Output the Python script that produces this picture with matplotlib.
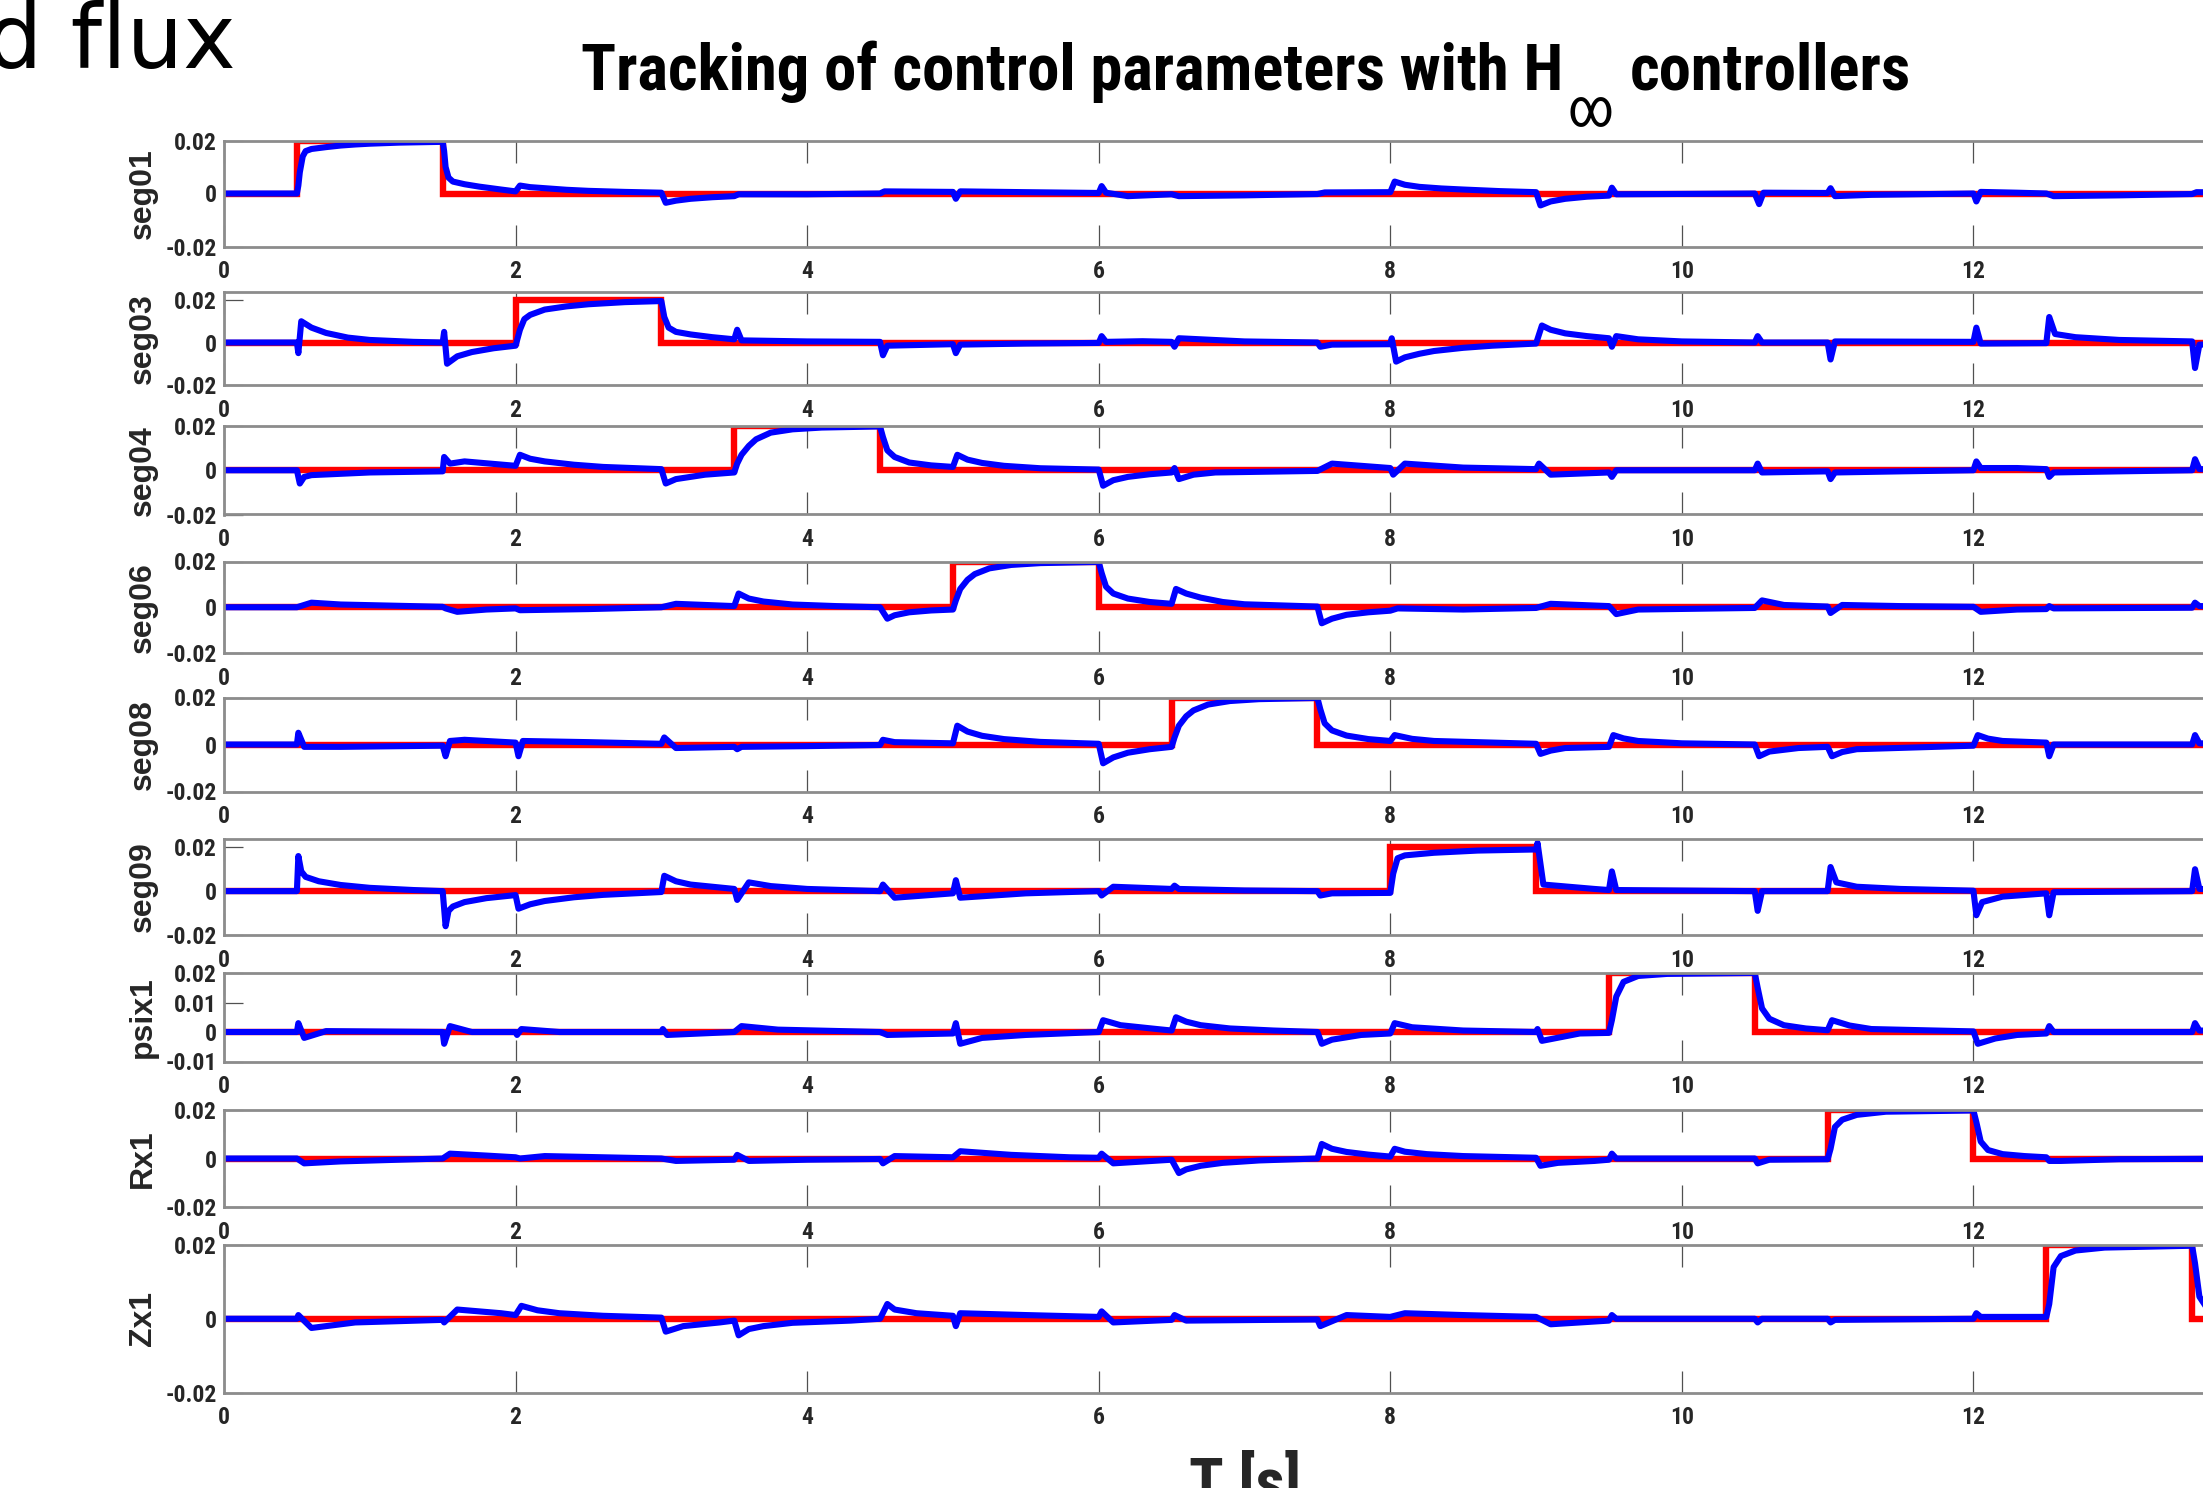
import matplotlib
matplotlib.use('Agg')
import matplotlib.pyplot as plt
import numpy as np

plt.rcParams['font.family'] = ['Roboto Condensed', 'DejaVu Sans']

# step reference (same for every channel, shifted in time)
amp = 0.02
step_on = [0.5, 2.0, 3.5, 5.0, 6.5, 8.0, 9.5, 11.0, 12.5]
step_off = [1.5, 3.0, 4.5, 6.0, 7.5, 9.0, 10.5, 12.0, 13.5]
names = ['seg01', 'seg03', 'seg04', 'seg06', 'seg08', 'seg09', 'psix1', 'Rx1', 'Zx1']

seg01 = [(0, 0), (0.5, 0), (0.51, 3), (0.52, 8), (0.54, 14), (0.56, 16), (0.6, 16.8), (0.7, 17.5),
         (0.8, 18.1), (0.9, 18.5), (1.0, 18.8), (1.2, 19.2), (1.5, 19.5),
         (1.51, 16), (1.52, 10), (1.54, 6), (1.57, 4.5), (1.65, 3.5), (1.75, 2.6), (1.9, 1.5), (2.0, 0.8),
         (2.03, 3), (2.1, 2.4), (2.2, 2), (2.35, 1.4), (2.5, 1), (2.75, 0.6), (3.0, 0.3),
         (3.03, -3.5), (3.1, -2.7), (3.2, -2), (3.35, -1.4), (3.5, -1),
         (3.53, -0.3), (4.0, -0.3), (4.5, 0), (4.53, 0.8), (5.0, 0.6),
         (5.02, -2), (5.05, 0.8), (5.5, 0.5), (6.0, 0.2), (6.02, 2.8), (6.05, 0.3), (6.2, -1), (6.5, -0.3),
         (6.55, -1), (7.0, -0.7), (7.5, -0.2), (7.55, 0.4), (8.0, 0.5),
         (8.03, 4.5), (8.1, 3.3), (8.2, 2.5), (8.35, 1.9), (8.5, 1.5), (8.75, 0.9), (9.0, 0.5),
         (9.03, -4.5), (9.1, -3), (9.2, -2), (9.35, -1.2), (9.5, -0.8),
         (9.52, 2.2), (9.55, -0.3), (10.5, 0), (10.53, -4), (10.56, 0.3), (11.0, 0.2),
         (11.02, 2), (11.05, -1), (11.3, -0.5), (12.0, 0),
         (12.02, -3), (12.05, 0.6), (12.3, 0.3), (12.5, 0), (12.55, -1), (13.0, -0.7), (13.5, -0.2),
         (13.53, 0.5), (14.0, 0.2)]
seg03 = [(0, 0), (0.5, 0), (0.51, -5), (0.53, 10), (0.6, 7), (0.7, 4.5), (0.85, 2.3), (1.0, 1.2),
         (1.3, 0.3), (1.5, 0),
         (1.51, 5), (1.53, -10), (1.6, -6.5), (1.7, -4.5), (1.85, -2.7), (2.0, -1.5),
         (2.03, 6), (2.06, 11), (2.1, 13), (2.2, 15.5), (2.35, 17), (2.5, 18), (2.75, 19), (3.0, 19.5),
         (3.02, 12), (3.05, 7), (3.1, 5), (3.2, 3.8), (3.35, 2.5), (3.5, 1.5),
         (3.52, 6), (3.55, 1), (4.0, 0.5), (4.5, 0.3),
         (4.52, -6), (4.55, -1.5), (5.0, -0.8), (5.02, -5), (5.05, -1), (5.5, -0.5), (6.0, -0.2),
         (6.02, 3), (6.05, 0.3), (6.3, 0.6), (6.5, 0.3), (6.52, -2), (6.55, 2), (7.0, 0.5), (7.5, 0),
         (7.52, -2), (7.6, -1), (8.0, -0.8),
         (8.01, 2), (8.04, -9), (8.1, -7), (8.2, -5.3), (8.3, -4), (8.5, -2.5), (8.7, -1.5), (9.0, -0.5),
         (9.04, 8), (9.1, 6), (9.2, 4.3), (9.35, 3), (9.5, 2),
         (9.52, -2), (9.55, 3), (9.7, 1.5), (10.0, 0.5), (10.5, 0),
         (10.52, 3), (10.55, 0), (11.0, 0), (11.02, -8), (11.05, 0.5), (12.0, 0.3),
         (12.02, 7), (12.05, -0.5), (12.5, -0.3),
         (12.52, 12), (12.56, 4), (12.7, 2.5), (13.0, 1.2), (13.5, 0.5),
         (13.52, -12), (13.55, -1), (14.0, -0.5)]
seg04 = [(0, 0), (0.5, 0), (0.52, -6), (0.55, -3), (0.6, -2.2), (1.0, -1), (1.5, -0.5),
         (1.51, 6), (1.55, 3), (1.65, 4), (2.0, 2),
         (2.03, 7), (2.1, 5.2), (2.2, 4), (2.4, 2.5), (2.6, 1.5), (3.0, 0.5),
         (3.03, -6), (3.1, -4), (3.3, -2), (3.5, -1),
         (3.52, 3), (3.55, 7), (3.6, 11), (3.65, 14), (3.75, 17), (3.9, 18.5), (4.1, 19.3), (4.5, 19.8),
         (4.52, 15), (4.55, 9), (4.6, 6), (4.7, 3.5), (4.85, 2.2), (5.0, 1.5),
         (5.03, 7), (5.1, 4.8), (5.2, 3.3), (5.35, 2), (5.6, 0.9), (6.0, 0.3),
         (6.03, -7), (6.1, -4.5), (6.2, -3), (6.35, -1.8), (6.5, -1),
         (6.52, 1), (6.55, -4), (6.65, -2), (6.8, -1), (7.5, -0.3),
         (7.6, 3), (7.8, 2), (8.0, 1), (8.02, -2), (8.1, 3), (8.5, 1.2), (9.0, 0.5),
         (9.02, 3), (9.1, -2), (9.5, -1), (9.52, -3), (9.55, 0), (10.5, 0),
         (10.52, 3), (10.55, -1), (11.0, -0.5), (11.02, -4), (11.05, -1), (11.5, -0.5), (12.0, 0),
         (12.02, 4), (12.05, 1), (12.3, 1), (12.5, 0.5), (12.52, -3), (12.55, -1), (13.0, -0.5), (13.5, 0),
         (13.52, 5), (13.55, 0.5), (14.0, 0.2)]
seg06 = [(0, 0), (0.5, 0), (0.6, 2), (0.8, 1.2), (1.5, 0.2), (1.52, -0.5), (1.6, -2), (1.8, -1), (2.0, -0.5),
         (2.03, -1.3), (2.5, -0.8), (3.0, 0), (3.1, 1.5), (3.5, 0.5),
         (3.53, 6), (3.6, 3.8), (3.7, 2.5), (3.9, 1.2), (4.2, 0.5), (4.5, 0),
         (4.55, -5), (4.6, -3.5), (4.7, -2.2), (4.85, -1.4), (5.0, -1),
         (5.02, 3), (5.05, 8), (5.1, 12), (5.15, 14.5), (5.25, 17), (5.4, 18.5), (5.6, 19.3), (6.0, 19.8),
         (6.02, 15), (6.05, 9), (6.1, 6), (6.2, 3.8), (6.35, 2.3), (6.5, 1.5),
         (6.53, 8), (6.6, 6), (6.7, 4.2), (6.85, 2.3), (7.0, 1.3), (7.5, 0.3),
         (7.53, -7), (7.6, -5), (7.7, -3.3), (7.85, -2.2), (8.0, -1.5),
         (8.05, -0.5), (8.5, -1), (9.0, -0.3), (9.1, 1.5), (9.5, 0.5),
         (9.55, -3), (9.7, -1), (10.5, -0.3), (10.55, 3), (10.7, 1), (11.0, 0.3),
         (11.02, -2.5), (11.1, 1), (11.5, 0.5), (12.0, 0.2), (12.05, -2), (12.3, -1), (12.5, -0.8),
         (12.52, 0.5), (12.55, -0.5), (13.5, -0.2), (13.52, 2), (13.55, 0.5), (14.0, 0.3)]
seg08 = [(0, 0), (0.5, 0), (0.51, 5), (0.55, -1), (0.8, -1), (1.5, -0.5),
         (1.52, -5), (1.55, 1.5), (1.65, 2), (2.0, 0.8), (2.02, -5), (2.05, 1.5), (2.5, 1), (3.0, 0.3),
         (3.02, 3), (3.1, -1.5), (3.5, -1), (3.52, -2), (3.55, -1), (4.0, -0.7), (4.5, -0.2),
         (4.52, 2), (4.6, 1), (5.0, 0.5),
         (5.03, 8), (5.1, 5.5), (5.2, 3.7), (5.35, 2.3), (5.6, 1.1), (6.0, 0.3),
         (6.03, -8), (6.1, -5.5), (6.2, -3.5), (6.35, -2), (6.5, -1),
         (6.52, 3), (6.55, 8), (6.6, 12), (6.65, 14.5), (6.75, 17), (6.9, 18.5), (7.1, 19.3), (7.5, 19.8),
         (7.52, 15), (7.55, 9), (7.6, 6), (7.7, 3.8), (7.85, 2.3), (8.0, 1.5),
         (8.03, 4), (8.15, 2.4), (8.3, 1.5), (9.0, 0.3),
         (9.03, -4), (9.1, -2.6), (9.2, -1.5), (9.5, -1), (9.53, 4), (9.6, 2.6), (9.7, 1.5), (10.0, 0.5), (10.5, 0),
         (10.53, -5), (10.6, -3), (10.8, -1.5), (11.0, -1), (11.03, -5), (11.1, -3.2), (11.2, -2), (12.0, -0.5),
         (12.03, 4), (12.1, 2.5), (12.2, 1.5), (12.5, 0.8), (12.52, -5), (12.55, 0), (13.5, 0),
         (13.52, 4), (13.55, 0.5), (14.0, 0.3)]
seg09 = [(0, 0), (0.5, 0), (0.51, 16), (0.53, 9), (0.56, 6.5), (0.65, 4.5), (0.8, 2.8), (1.0, 1.5),
         (1.3, 0.5), (1.5, 0),
         (1.52, -16), (1.54, -9), (1.57, -7), (1.65, -5), (1.8, -3.2), (2.0, -1.8),
         (2.02, -8), (2.1, -6), (2.2, -4.5), (2.4, -2.8), (2.6, -1.7), (3.0, -0.4),
         (3.02, 7), (3.1, 4.5), (3.2, 3), (3.5, 1), (3.52, -4), (3.6, 4), (3.75, 2.3), (4.0, 1), (4.5, 0),
         (4.52, 3), (4.6, -3), (5.0, -1), (5.02, 5), (5.05, -3), (5.5, -1), (6.0, 0),
         (6.02, -2), (6.1, 2), (6.5, 1), (6.52, 2.5), (6.55, 1), (7.0, 0.3), (7.5, 0),
         (7.52, -2), (7.6, -1), (8.0, -0.8),
         (8.02, 8), (8.05, 15), (8.1, 16.3), (8.3, 17.5), (8.6, 18.5), (9.0, 19),
         (9.01, 22), (9.05, 3), (9.4, 1), (9.5, 0.5), (9.52, 9), (9.55, 0.5), (10.5, 0),
         (10.52, -9), (10.55, 0), (11.0, 0),
         (11.02, 11), (11.06, 4), (11.2, 2), (11.5, 1), (12.0, 0.2),
         (12.02, -11), (12.06, -5), (12.2, -2.5), (12.5, -1),
         (12.52, -11), (12.55, -0.5), (13.5, 0), (13.52, 10), (13.55, 1), (14.0, 0.5)]
psix1 = [(0, 0), (0.5, 0), (0.51, 3), (0.55, -2), (0.7, 0.3), (1.5, 0),
         (1.51, -4), (1.55, 2), (1.7, 0), (2.0, 0), (2.01, -1), (2.04, 1), (2.3, 0), (3.0, 0),
         (3.01, 1), (3.04, -1), (3.5, 0), (3.55, 2), (3.8, 0.8), (4.5, 0), (4.55, -1), (5.0, -0.5),
         (5.02, 3), (5.05, -4), (5.2, -2), (5.5, -1), (6.0, 0),
         (6.03, 4), (6.15, 2.3), (6.4, 1), (6.5, 0.5),
         (6.53, 5), (6.6, 3.5), (6.7, 2.3), (6.9, 1.2), (7.2, 0.5), (7.5, 0),
         (7.53, -4), (7.6, -2.6), (7.8, -1), (8.0, -0.5),
         (8.03, 3), (8.15, 1.6), (8.5, 0.5), (9.0, 0), (9.01, 1), (9.04, -3), (9.3, -0.5), (9.5, -0.3),
         (9.52, 4), (9.55, 12), (9.6, 17), (9.7, 19), (9.9, 19.7), (10.5, 20),
         (10.52, 15), (10.55, 8), (10.6, 4.5), (10.7, 2.3), (10.85, 1.2), (11.0, 0.6),
         (11.03, 4), (11.15, 2.2), (11.3, 1), (12.0, 0.2),
         (12.03, -4), (12.15, -2.2), (12.3, -1), (12.5, -0.5),
         (12.52, 2), (12.55, 0), (13.5, 0), (13.52, 3), (13.55, 0.5), (14.0, 0.2)]
Rx1 = [(0, 0), (0.5, 0), (0.55, -2), (0.8, -1.2), (1.2, -0.5), (1.5, 0),
       (1.55, 2), (1.8, 1.2), (2.0, 0.5), (2.03, 0), (2.2, 1), (2.6, 0.5), (3.0, 0),
       (3.1, -1), (3.5, -0.5), (3.52, 1.5), (3.6, -1), (4.0, -0.5), (4.5, -0.2),
       (4.52, -2), (4.6, 1), (5.0, 0.5), (5.05, 3), (5.4, 1.5), (5.8, 0.5), (6.0, 0.3),
       (6.02, 2), (6.1, -2), (6.5, -0.5),
       (6.55, -6), (6.6, -4.5), (6.7, -3), (6.85, -1.8), (7.1, -0.8), (7.5, 0),
       (7.53, 6), (7.6, 4), (7.7, 2.7), (7.85, 1.6), (8.0, 0.8),
       (8.03, 4), (8.1, 2.8), (8.25, 1.8), (8.5, 1), (9.0, 0.3),
       (9.03, -3), (9.15, -1.8), (9.4, -1), (9.5, -0.5), (9.52, 2), (9.55, 0), (10.5, 0),
       (10.52, -2), (10.6, -0.5), (11.0, -0.3),
       (11.02, 4), (11.05, 13), (11.1, 16), (11.2, 18), (11.4, 19.3), (12.0, 19.8),
       (12.02, 15), (12.05, 7), (12.1, 3.5), (12.2, 1.8), (12.35, 1), (12.5, 0.5),
       (12.52, -1), (12.6, -1), (13.0, -0.3), (14.0, 0)]
Zx1 = [(0, 0), (0.5, 0), (0.51, 1), (0.6, -2.5), (0.9, -1), (1.5, -0.3),
       (1.51, -1), (1.6, 2.5), (1.9, 1.5), (2.0, 1),
       (2.04, 3.5), (2.15, 2.3), (2.3, 1.5), (2.6, 0.8), (3.0, 0.3),
       (3.03, -3.5), (3.15, -2), (3.4, -1), (3.5, -0.5),
       (3.53, -4.5), (3.6, -2.8), (3.7, -2), (3.9, -1.1), (4.3, -0.5), (4.5, 0),
       (4.55, 4), (4.6, 2.5), (4.75, 1.5), (5.0, 0.8), (5.02, -2), (5.05, 1.5), (5.5, 1), (6.0, 0.5),
       (6.02, 2), (6.1, -1), (6.5, -0.3), (6.52, 1), (6.6, -0.5), (7.5, -0.2),
       (7.52, -2), (7.7, 1), (8.0, 0.5), (8.1, 1.5), (8.5, 1), (9.0, 0.5),
       (9.1, -1.5), (9.5, -0.5), (9.52, 1), (9.55, 0), (10.5, 0),
       (10.52, -1), (10.55, 0), (11.0, 0), (11.02, -1), (11.05, -0.3), (12.0, 0),
       (12.02, 1.5), (12.05, 0.5), (12.5, 0.5),
       (12.52, 4), (12.55, 14), (12.6, 17), (12.7, 18.5), (12.9, 19.3), (13.5, 19.8),
       (13.52, 15), (13.55, 6), (13.6, 3), (13.7, 1.7), (13.85, 1), (14.0, 0.6)]
responses = [seg01, seg03, seg04, seg06, seg08, seg09, psix1, Rx1, Zx1]

# layout in pixels of the original figure
W, H = 2203, 1488
x_left, x_width = 224, 2041
panel_px = [(140.5, 246.5), (291.5, 385), (426, 514.5), (561.5, 653), (697.5, 791.5),
            (838.5, 935), (973, 1061.5), (1110, 1207), (1245, 1392.5)]
ylims = [(-0.02, 0.02), (-0.02, 0.024), (-0.02, 0.02), (-0.02, 0.02), (-0.02, 0.02),
         (-0.02, 0.024), (-0.01, 0.02), (-0.02, 0.02), (-0.02, 0.02)]

fig = plt.figure(figsize=(W / 100, H / 100), dpi=100)
box_col = '#8c8c8c'
txt_col = '#262626'

for i, name in enumerate(names):
    top, bot = panel_px[i]
    ax = fig.add_axes([x_left / W, 1 - bot / H, x_width / W, (bot - top) / H])
    # reference
    rt = [0, step_on[i], step_on[i], step_off[i], step_off[i], 14]
    ry = [0, 0, amp, amp, 0, 0]
    ax.plot(rt, ry, color='#ff0000', lw=4.6, solid_joinstyle='miter')
    t, v = zip(*responses[i])
    ax.plot(t, np.array(v) * 1e-3, color='#0000ff', lw=4.4)

    ax.set_xlim(0, 14)
    ax.set_ylim(*ylims[i])
    ax.set_xticks(range(0, 13, 2))  # tick 14 lies outside the cropped picture
    if name == 'psix1':
        ax.set_yticks([-0.01, 0, 0.01, 0.02])
        ax.set_yticklabels(['-0.01', '0', '0.01', '0.02'])
    else:
        ax.set_yticks([-0.02, 0, 0.02])
        ax.set_yticklabels(['-0.02', '0', '0.02'])
    for s in ax.spines.values():
        s.set_color(box_col)
        s.set_linewidth(2.0)
    ax.tick_params(axis='x', direction='in', top=True, length=16, width=0.9,
                   color='#505050', pad=10, labelsize=17, labelcolor=txt_col)
    ax.tick_params(axis='y', direction='in', right=True, length=14, width=0.9,
                   color='#505050', pad=5, labelsize=17, labelcolor=txt_col)
    for lab in ax.get_xticklabels() + ax.get_yticklabels():
        lab.set_fontweight('bold')
    ax.set_ylabel(name, fontsize=23, fontweight='bold', color=txt_col,
                  family=['Liberation Sans', 'DejaVu Sans'])
    ax.yaxis.set_label_coords((158 - x_left) / x_width, 0.5)

# title pieces (H with a low infinity subscript)
tfont = dict(fontsize=46.5, fontweight='bold', color='black')
fig.text(1563 / W, 1 - 90 / H, 'Tracking of control parameters with H', ha='right', va='baseline', **tfont)
fig.text(1630 / W, 1 - 90 / H, 'controllers', ha='left', va='baseline', **tfont)
fig.text(1591 / W, 1 - 112 / H, '\u221e', ha='center', va='center', fontsize=38,
         family=['Roboto Condensed', 'DejaVu Sans'])

fig.text(1245 / W, 1 - 1452 / H, 'T [s]', ha='center', va='top', fontsize=46, fontweight='bold', color=txt_col)

# slide text left over from the slide behind the figure
fig.text(236 / W, 1 - 68 / H, 'd flux', ha='right', va='baseline', fontsize=64,
         family=['DejaVu Sans'], color='black')

fig.savefig('out.png', dpi=100)
